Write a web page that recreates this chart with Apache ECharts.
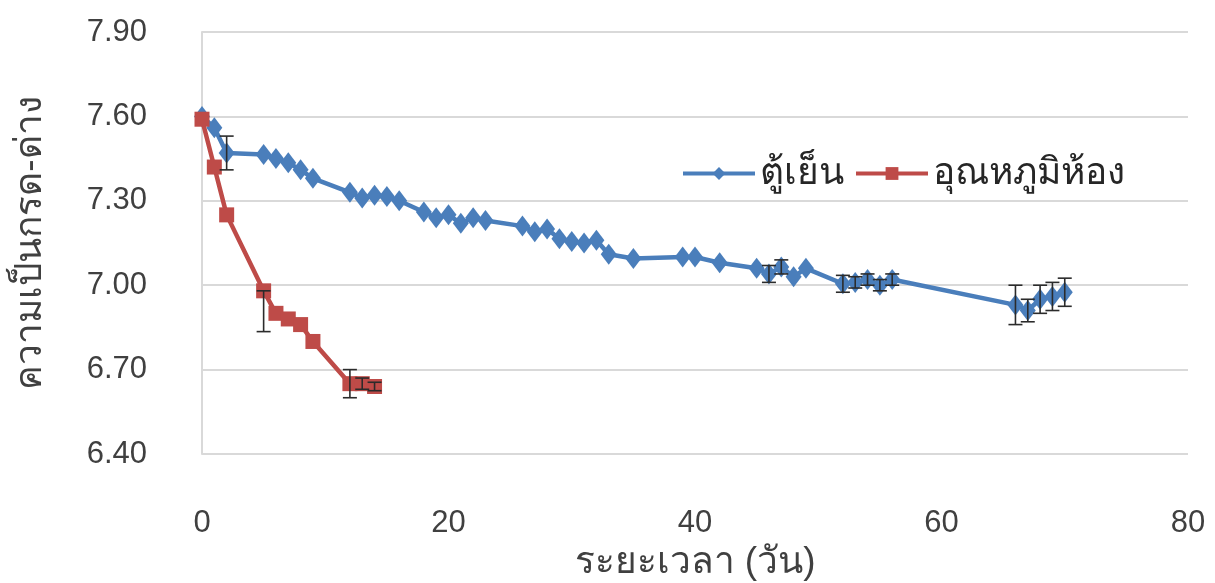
<!DOCTYPE html>
<html><head><meta charset="utf-8">
<script src="https://cdn.jsdelivr.net/npm/echarts@6/dist/echarts.min.js"></script>
<style>html,body{margin:0;padding:0;background:#fff}#c{width:1215px;height:583px}</style>
</head><body><div id="c"></div>
<script>
// Data
const seriesNames = ['ตู้เย็น', 'อุณหภูมิห้อง'];
const xTitle = 'ระยะเวลา (วัน)';
const yTitle = 'ความเป็นกรด-ด่าง';

const blueX = [0,1,2,5,6,7,8,9,12,13,14,15,16,18,19,20,21,22,23,26,27,28,29,30,31,32,33,35,39,40,42,45,46,47,48,49,52,53,54,55,56,66,67,68,69,70];
const blueY = [7.60,7.56,7.47,7.465,7.45,7.435,7.41,7.38,7.33,7.31,7.32,7.315,7.30,7.26,7.24,7.25,7.22,7.24,7.23,7.21,7.19,7.20,7.165,7.155,7.15,7.16,7.11,7.095,7.10,7.10,7.08,7.06,7.04,7.065,7.03,7.06,7.005,7.01,7.02,7.00,7.02,6.93,6.91,6.95,6.96,6.975];
const blueErrX = [2,46,47,52,53,54,55,56,66,67,68,69,70];
const blueErr  = [0.06,0.03,0.025,0.03,0.02,0.02,0.02,0.02,0.07,0.04,0.05,0.05,0.05];

const redX = [0,1,2,5,6,7,8,9,12,13,14];
const redY = [7.59,7.42,7.25,6.98,6.90,6.88,6.86,6.80,6.65,6.65,6.64];
const redErrX = [5,12,13,14];
const redErrMinus = [0.145,0.05,0.02,0.015];
const redErrPlus  = [0.0,0.05,0.02,0.015];

const xTicks = [0,20,40,60,80];
const yTicks = [6.40,6.70,7.00,7.30,7.60,7.90];

// Build
const bluePts = blueX.map((x,i)=>[x, blueY[i]]);
const redPts = redX.map((x,i)=>[x, redY[i]]);
const blueErrData = blueErrX.map((x,i)=>{ const y = blueY[blueX.indexOf(x)]; return [x, y-blueErr[i], y+blueErr[i]]; });
const redErrData = redErrX.map((x,i)=>{ const y = redY[redX.indexOf(x)]; return [x, y-redErrMinus[i], y+redErrPlus[i]]; });

function renderErr(params, api){
  const x = api.value(0), lo = api.value(1), hi = api.value(2);
  const a = api.coord([x, lo]), b = api.coord([x, hi]);
  const w = 7, st = {stroke:'#2b2b2b', lineWidth:1.6};
  return {type:'group', children:[
    {type:'line', shape:{x1:a[0],y1:a[1],x2:b[0],y2:b[1]}, style:st},
    {type:'line', shape:{x1:a[0]-w,y1:a[1],x2:a[0]+w,y2:a[1]}, style:st},
    {type:'line', shape:{x1:b[0]-w,y1:b[1],x2:b[0]+w,y2:b[1]}, style:st}
  ]};
}

const FONT = '"Liberation Sans", Arial, sans-serif';
const chart = echarts.init(document.getElementById('c'));
chart.setOption({
  animation:false,
  backgroundColor:'#fff',
  grid:{left:202, right:27, top:32, bottom:129, containLabel:false, outerBoundsMode:'none'},
  legend:{
    data:[{name:seriesNames[0]},{name:seriesNames[1]}],
    left:676, top:150, itemWidth:72, itemHeight:16, itemGap:10,
    lineStyle:{width:4},
    textStyle:{fontSize:37, color:'#262626', fontFamily:FONT}
  },
  xAxis:{
    type:'value', min:xTicks[0], max:xTicks[xTicks.length-1], interval:20,
    axisLine:{show:false}, axisTick:{show:false}, splitLine:{show:false},
    axisLabel:{fontSize:31, color:'#404040', margin:54, fontFamily:FONT},
    name:xTitle, nameLocation:'middle', nameGap:84,
    nameTextStyle:{fontSize:37, color:'#404040', fontFamily:FONT}
  },
  yAxis:{
    type:'value', min:yTicks[0], max:yTicks[yTicks.length-1], interval:0.3,
    axisLine:{show:true, lineStyle:{color:'#d9d9d9', width:2}}, axisTick:{show:false},
    splitLine:{show:true, lineStyle:{color:'#d9d9d9', width:2}},
    axisLabel:{fontSize:31, color:'#404040', margin:55, fontFamily:FONT, formatter:v=>v.toFixed(2)},
    name:yTitle, nameLocation:'middle', nameGap:153,
    nameTextStyle:{fontSize:37, color:'#404040', fontFamily:FONT}
  },
  series:[
    {name:seriesNames[0], type:'line', data:bluePts, color:'#4a7ebb',
     lineStyle:{width:4.5, color:'#4a7ebb'}, symbol:'diamond', symbolSize:[16,21],
     itemStyle:{color:'#4a7ebb'}, z:3},
    {name:seriesNames[1], type:'line', data:redPts, color:'#be4b48',
     lineStyle:{width:4.5, color:'#be4b48'}, symbol:'rect', symbolSize:15,
     itemStyle:{color:'#be4b48'}, z:4},
    {type:'custom', renderItem:renderErr, data:blueErrData, z:5, silent:true, encode:{x:0,y:[1,2]}},
    {type:'custom', renderItem:renderErr, data:redErrData, z:5, silent:true, encode:{x:0,y:[1,2]}}
  ]
});
</script></body></html>
